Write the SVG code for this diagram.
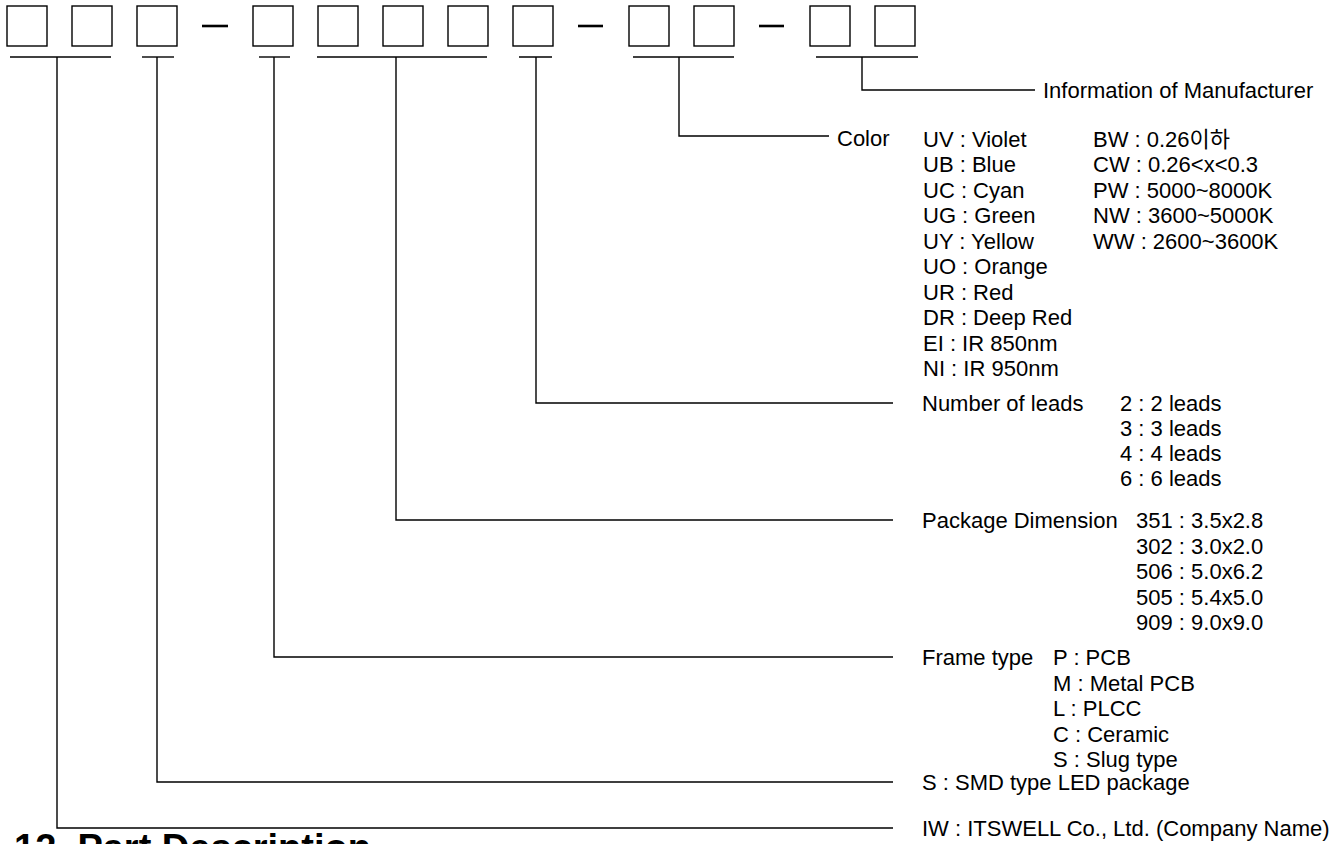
<svg xmlns="http://www.w3.org/2000/svg" width="1337" height="844" viewBox="0 0 1337 844">
<style>
.box{fill:none;stroke:#000;stroke-width:1.4}
.dash{stroke:#000;stroke-width:2.6}
.ul{stroke:#000;stroke-width:1.4;fill:none}
.c{fill:none;stroke:#000;stroke-width:1.4}
text{font-family:"Liberation Sans",Arial,"Noto Sans CJK KR",sans-serif;font-size:22px;fill:#000}
.title{font-weight:bold;font-size:38px}
</style>
<rect width="1337" height="844" fill="#fff"/>
<g id="code">
<rect class="box" x="7" y="6" width="40" height="40"/>
<rect class="box" x="72" y="6" width="40" height="40"/>
<rect class="box" x="137" y="6" width="40" height="40"/>
<line class="dash" x1="202" y1="26" x2="228" y2="26"/>
<rect class="box" x="253" y="6" width="40" height="40"/>
<rect class="box" x="318" y="6" width="40" height="40"/>
<rect class="box" x="383" y="6" width="40" height="40"/>
<rect class="box" x="448" y="6" width="40" height="40"/>
<rect class="box" x="513" y="6" width="40" height="40"/>
<line class="dash" x1="578" y1="26" x2="603" y2="26"/>
<rect class="box" x="629" y="6" width="40" height="40"/>
<rect class="box" x="694" y="6" width="40" height="40"/>
<line class="dash" x1="759" y1="26" x2="784" y2="26"/>
<rect class="box" x="810" y="6" width="40" height="40"/>
<rect class="box" x="875" y="6" width="40" height="40"/>
</g>
<g id="connectors">
<line class="ul" x1="10" y1="57" x2="111" y2="57"/>
<line class="ul" x1="142" y1="57" x2="174" y2="57"/>
<line class="ul" x1="259" y1="57" x2="290" y2="57"/>
<line class="ul" x1="317" y1="57" x2="487" y2="57"/>
<line class="ul" x1="519" y1="57" x2="552" y2="57"/>
<line class="ul" x1="633" y1="57" x2="734" y2="57"/>
<line class="ul" x1="816" y1="57" x2="918" y2="57"/>
<path class="c" d="M57 57V828H893"/>
<path class="c" d="M157 57V782H893"/>
<path class="c" d="M274 57V657H893"/>
<path class="c" d="M396 57V520H893"/>
<path class="c" d="M536 57V403H893"/>
<path class="c" d="M679 57V136H829"/>
<path class="c" d="M862 57V90H1035"/>
</g>
<g id="manufacturer"><text x="1043" y="98">Information of Manufacturer</text></g>
<g id="color">
<text x="837" y="146">Color</text>
<text x="923" y="147">UV : Violet</text>
<text x="923" y="172">UB : Blue</text>
<text x="923" y="198">UC : Cyan</text>
<text x="923" y="223">UG : Green</text>
<text x="923" y="249">UY : Yellow</text>
<text x="923" y="274">UO : Orange</text>
<text x="923" y="300">UR : Red</text>
<text x="923" y="325">DR : Deep Red</text>
<text x="923" y="351">EI : IR 850nm</text>
<text x="923" y="376">NI : IR 950nm</text>
<text x="1093" y="147">BW : 0.26이하</text>
<text x="1093" y="172">CW : 0.26&lt;x&lt;0.3</text>
<text x="1093" y="198">PW : 5000~8000K</text>
<text x="1093" y="223">NW : 3600~5000K</text>
<text x="1093" y="249">WW : 2600~3600K</text>
</g>
<g id="leads">
<text x="922" y="411">Number of leads</text>
<text x="1120" y="411">2 : 2 leads</text>
<text x="1120" y="436">3 : 3 leads</text>
<text x="1120" y="461">4 : 4 leads</text>
<text x="1120" y="486">6 : 6 leads</text>
</g>
<g id="package">
<text x="922" y="528">Package Dimension</text>
<text x="1136" y="528">351 : 3.5x2.8</text>
<text x="1136" y="553.5">302 : 3.0x2.0</text>
<text x="1136" y="579">506 : 5.0x6.2</text>
<text x="1136" y="604.5">505 : 5.4x5.0</text>
<text x="1136" y="630">909 : 9.0x9.0</text>
</g>
<g id="frame">
<text x="922" y="665">Frame type</text>
<text x="1053" y="665">P : PCB</text>
<text x="1053" y="690.5">M : Metal PCB</text>
<text x="1053" y="716">L : PLCC</text>
<text x="1053" y="741.5">C : Ceramic</text>
<text x="1053" y="767">S : Slug type</text>
</g>
<g id="smd"><text x="922" y="790">S : SMD type LED package</text></g>
<g id="company"><text x="922" y="836">IW : ITSWELL Co., Ltd. (Company Name)</text></g>
<g id="title"><text class="title" x="14" y="861">12. Part Description</text></g>
</svg>
